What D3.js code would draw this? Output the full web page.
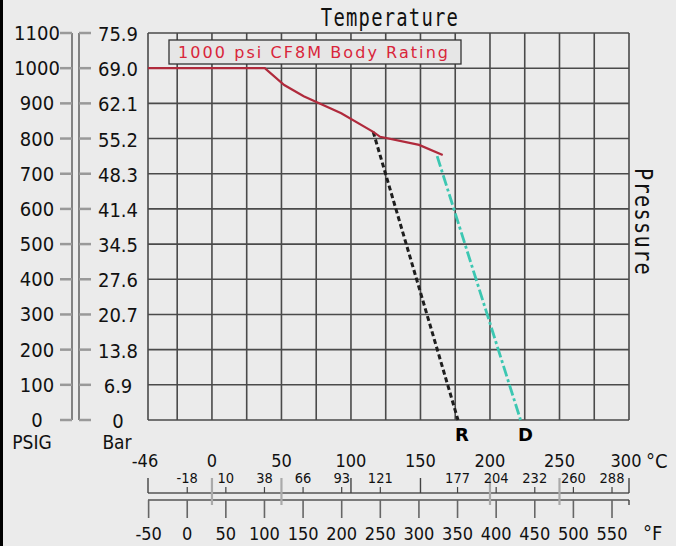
<!DOCTYPE html>
<html>
<head>
<meta charset="utf-8">
<script src="https://cdn.jsdelivr.net/npm/d3@7"></script>
<style>
  body { margin: 0; background: #ebebeb; }
  svg { display: block; }
  .lbl { font-family: "DejaVu Sans Condensed", "DejaVu Sans", sans-serif; font-stretch: condensed; fill: #111; }
  .mono { font-family: "DejaVu Sans Mono", monospace; fill: #111; }
</style>
</head>
<body>
<div class="d3"></div>
<script>
// pressure rating, temperatures in °C, pressure in psig
var ratingTemp = [-46, 38, 52, 66, 93, 116, 121, 149, 166];
var ratingPsi = [1000, 1000, 952, 920, 872, 819, 805, 782, 753];
var rTemp = [116, 177];
var rPsi = [819, 0];
var dTemp = [162, 222];
var dPsi = [750, 0];

var psigTicks = [0, 100, 200, 300, 400, 500, 600, 700, 800, 900, 1000, 1100];
var barLabels = ["0", "6.9", "13.8", "20.7", "27.6", "34.5", "41.4", "48.3", "55.2", "62.1", "69.0", "75.9"];
var gridTemps = [-25, 0, 25, 50, 75, 100, 125, 150, 175, 200, 225, 250, 275, 300];
var cTicks = [-46, 0, 50, 100, 150, 200, 250, 300];
var fTicks = [-50, 0, 50, 100, 150, 200, 250, 300, 350, 400, 450, 500, 550];
var fInC = ["", "-18", "10", "38", "66", "93", "121", "", "177", "204", "232", "260", "288"];

var w = 676, h = 546;
var fToC = f => (f - 32) * 5 / 9;

var svg = d3.select(".d3").append("svg")
  .attr("width", w)
  .attr("height", h);

var x = d3.scaleLinear().domain([-46, 300]).range([148, 629]);
var y = d3.scaleLinear().domain([0, 1100]).range([420, 33]);

// left border
svg.append("rect").attr("x", 0).attr("y", 0).attr("width", 3).attr("height", h).attr("fill", "#000");

// grid
var grid = svg.append("g");
grid.selectAll(".hg").data(psigTicks).enter().append("line")
  .attr("x1", x(-46)).attr("x2", x(300))
  .attr("y1", d => y(d)).attr("y2", d => y(d))
  .attr("stroke", "#4a4a4a").attr("stroke-width", 1.6);
grid.selectAll(".vg").data([-46].concat(gridTemps)).enter().append("line")
  .attr("x1", d => x(d)).attr("x2", d => x(d))
  .attr("y1", y(0)).attr("y2", y(1100))
  .attr("stroke", "#4a4a4a").attr("stroke-width", 1.6);

// PSIG axis
var psig = svg.append("g");
psig.append("line").attr("x1", 72).attr("x2", 72).attr("y1", y(1100)).attr("y2", y(0))
  .attr("stroke", "#555").attr("stroke-width", 1.4);
psig.selectAll(".t").data(psigTicks).enter().append("line")
  .attr("x1", 60).attr("x2", 72).attr("y1", d => y(d)).attr("y2", d => y(d))
  .attr("stroke", "#999").attr("stroke-width", 2.5);
psig.selectAll("text").data(psigTicks).enter().append("text")
  .attr("class", "lbl")
  .attr("x", 37).attr("y", d => y(d) + 7)
  .attr("text-anchor", "middle")
  .attr("font-size", 20)
  .text(d => d);

// Bar axis
var bar = svg.append("g");
bar.append("line").attr("x1", 79).attr("x2", 79).attr("y1", y(1100)).attr("y2", y(0))
  .attr("stroke", "#555").attr("stroke-width", 1.4);
bar.selectAll(".t").data(psigTicks).enter().append("line")
  .attr("x1", 79).attr("x2", 91).attr("y1", d => y(d)).attr("y2", d => y(d))
  .attr("stroke", "#999").attr("stroke-width", 2.5);
bar.selectAll("text").data(psigTicks).enter().append("text")
  .attr("class", "lbl")
  .attr("x", 118).attr("y", d => y(d) + 8)
  .attr("text-anchor", "middle")
  .attr("font-size", 20)
  .text((d, i) => barLabels[i]);

svg.append("text").attr("class", "lbl").attr("x", 32).attr("y", 449)
  .attr("text-anchor", "middle").attr("font-size", 19).text("PSIG");
svg.append("text").attr("class", "lbl").attr("x", 117).attr("y", 449)
  .attr("text-anchor", "middle").attr("font-size", 19).text("Bar");

// curves
var line = d3.line().x(d => x(d[0])).y(d => y(d[1]));
svg.append("path")
  .attr("d", line(d3.zip(rTemp, rPsi)))
  .attr("fill", "none").attr("stroke", "#1e1e1e").attr("stroke-width", 3)
  .attr("stroke-dasharray", "5,3");
svg.append("path")
  .attr("d", line(d3.zip(dTemp, dPsi)))
  .attr("fill", "none").attr("stroke", "#3cc7b2").attr("stroke-width", 2.8)
  .attr("stroke-dasharray", "11,3,3,3");
svg.append("path")
  .attr("d", line(d3.zip(ratingTemp, ratingPsi)))
  .attr("fill", "none").attr("stroke", "#b02a3c").attr("stroke-width", 2.2);

svg.append("text").attr("x", x(177) + 4).attr("y", 441).attr("text-anchor", "middle")
  .attr("font-family", "DejaVu Sans, sans-serif").attr("font-weight", "bold").attr("font-size", 18)
  .text("R");
svg.append("text").attr("x", x(222) + 5).attr("y", 441).attr("text-anchor", "middle")
  .attr("font-family", "DejaVu Sans, sans-serif").attr("font-weight", "bold").attr("font-size", 18)
  .text("D");

// legend box
svg.append("rect").attr("x", 169).attr("y", 40).attr("width", 292).attr("height", 24)
  .attr("fill", "#e6e6e6").attr("stroke", "#333").attr("stroke-width", 1.3);
svg.append("text").attr("x", 178).attr("y", 58)
  .attr("font-family", "DejaVu Sans, sans-serif").attr("font-size", 16)
  .attr("fill", "#d9253a")
  .attr("textLength", 270).attr("lengthAdjust", "spacing")
  .text("1000 psi CF8M Body Rating");

// titles
svg.append("text").attr("class", "mono")
  .attr("transform", "translate(390,26) scale(0.82,1.05)")
  .attr("text-anchor", "middle").attr("font-size", 23)
  .attr("letter-spacing", 1.5)
  .text("Temperature");
svg.append("text").attr("class", "mono")
  .attr("transform", "translate(635,222) rotate(90) scale(0.88,1.05)")
  .attr("text-anchor", "middle").attr("font-size", 23)
  .attr("letter-spacing", 1.5)
  .text("Pressure");

// bottom temperature scales
var ax = svg.append("g");
var yC = 493, yF = 500;
ax.append("line").attr("x1", x(-46)).attr("x2", x(300)).attr("y1", yC).attr("y2", yC)
  .attr("stroke", "#555").attr("stroke-width", 1.4);
ax.append("line").attr("x1", x(-46)).attr("x2", x(300)).attr("y1", yF).attr("y2", yF)
  .attr("stroke", "#555").attr("stroke-width", 1.4);

// °C ticks
var solidC = d => (d === -46 || d === 300 || d === 100 || d === 150);
ax.selectAll(".ct").data(cTicks).enter().append("line")
  .attr("x1", d => x(d)).attr("x2", d => x(d))
  .attr("y1", 478)
  .attr("y2", d => solidC(d) ? yC : 505)
  .attr("stroke", d => solidC(d) ? "#444" : "#aaa")
  .attr("stroke-width", d => solidC(d) ? 1.4 : 2.2);
ax.append("line").attr("x1", x(300)).attr("x2", x(300)).attr("y1", yF).attr("y2", 505)
  .attr("stroke", "#444").attr("stroke-width", 1.4);
ax.selectAll(".cl").data(cTicks).enter().append("text")
  .attr("class", "lbl")
  .attr("x", d => x(d) - (d === -46 || d === 300 ? 3 : 0)).attr("y", 467)
  .attr("text-anchor", "middle").attr("font-size", 18)
  .text(d => d);
svg.append("text").attr("class", "lbl").attr("x", 646).attr("y", 468)
  .attr("font-size", 20).text("°C");

// °F ticks, with their °C equivalents
ax.selectAll(".fs").data(fTicks.filter((d, i) => fInC[i] !== "")).enter().append("line")
  .attr("x1", d => x(fToC(d))).attr("x2", d => x(fToC(d)))
  .attr("y1", 487).attr("y2", yC)
  .attr("stroke", "#444").attr("stroke-width", 1.2);
ax.selectAll(".fsl").data(fTicks.map((d, i) => [d, fInC[i]]).filter(d => d[1] !== "")).enter().append("text")
  .attr("class", "lbl")
  .attr("x", d => x(fToC(d[0]))).attr("y", 483)
  .attr("text-anchor", "middle").attr("font-size", 14.5)
  .text(d => d[1]);
ax.selectAll(".ft").data(fTicks).enter().append("line")
  .attr("x1", d => x(fToC(d))).attr("x2", d => x(fToC(d)))
  .attr("y1", yF).attr("y2", 518)
  .attr("stroke", "#666").attr("stroke-width", 1.6);
ax.selectAll(".fl").data(fTicks).enter().append("text")
  .attr("class", "lbl")
  .attr("x", d => x(fToC(d))).attr("y", 540)
  .attr("text-anchor", "middle").attr("font-size", 18)
  .text(d => d);
svg.append("text").attr("class", "lbl").attr("x", 643).attr("y", 540)
  .attr("font-size", 20).text("°F");
</script>
</body>
</html>
